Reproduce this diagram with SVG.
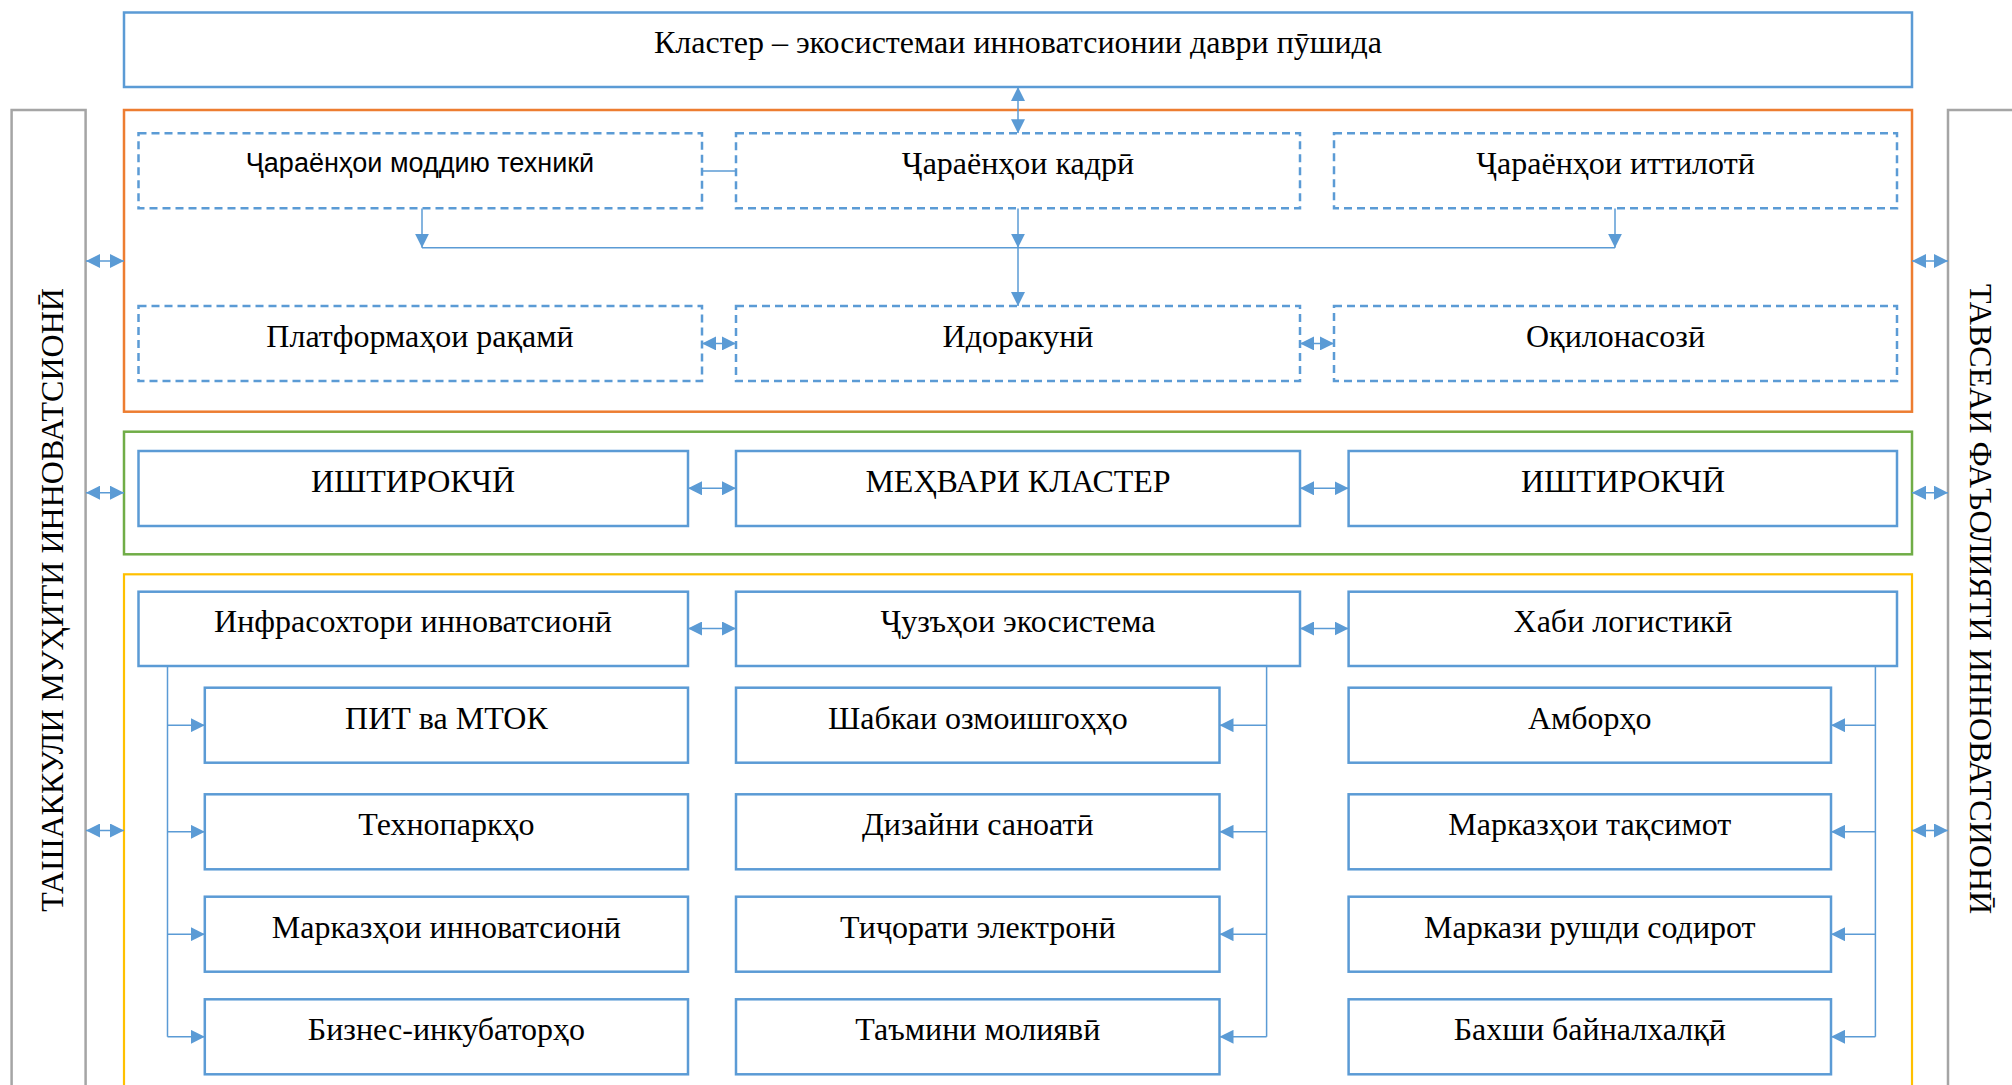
<svg xmlns="http://www.w3.org/2000/svg" width="2012" height="1085" viewBox="0 0 2012 1085">
<defs>
<marker id="ah" viewBox="0 0 12 12" refX="12" refY="6" markerWidth="14" markerHeight="14" markerUnits="userSpaceOnUse" orient="auto-start-reverse"><path d="M0,0 L12,6 L0,12 z" fill="#5B9BD5"/></marker>
</defs>
<style>
.bx{fill:#fff;stroke:#5B9BD5;stroke-width:2.5}
.dbx{fill:#fff;stroke:#5B9BD5;stroke-width:2.5;stroke-dasharray:8 5}
.t{font-family:"Liberation Serif","Times New Roman",serif;font-size:32px;text-anchor:middle;fill:#000}
.ts{font-family:"Liberation Sans",Arial,sans-serif;font-size:27px;text-anchor:middle;fill:#000}
.vt{font-family:"Liberation Serif","Times New Roman",serif;font-size:32px;text-anchor:middle;fill:#000}
.c{fill:none;stroke:#5B9BD5;stroke-width:1.5}
.a{fill:none;stroke:#5B9BD5;stroke-width:1.5;marker-end:url(#ah)}
.aa{fill:none;stroke:#5B9BD5;stroke-width:1.5;marker-start:url(#ah);marker-end:url(#ah)}
</style>
<rect width="2012" height="1085" fill="#fff"/>

<g id="side-left">
<rect x="11.6" y="110" width="74" height="1000" fill="none" stroke="#A5A5A5" stroke-width="2.5"/>
<text class="vt" transform="translate(62.5,600) rotate(-90)">ТАШАККУЛИ МУҲИТИ ИННОВАТСИОНӢ</text>
</g>
<g id="side-right">
<rect x="1948" y="110" width="90" height="1000" fill="none" stroke="#A5A5A5" stroke-width="2.5"/>
<text class="vt" transform="translate(1970,599) rotate(90)">ТАВСЕАИ ФАЪОЛИЯТИ ИННОВАТСИОНӢ</text>
</g>

<g id="container-orange"><rect x="124" y="110" width="1788" height="301.7" fill="none" stroke="#ED7D31" stroke-width="2.5"/></g>
<g id="container-green"><rect x="124" y="431.7" width="1788" height="122.6" fill="none" stroke="#70AD47" stroke-width="2.5"/></g>
<g id="container-yellow"><rect x="124" y="574.3" width="1788" height="540" fill="none" stroke="#FFC000" stroke-width="2.2"/></g>

<g id="connectors">
<line class="aa" x1="1018" y1="87" x2="1018" y2="133.3"/>
<line class="c" x1="702" y1="171" x2="736" y2="171"/>
<line class="a" x1="422" y1="208.3" x2="422" y2="247.7"/>
<line class="a" x1="1018" y1="208.3" x2="1018" y2="247.7"/>
<line class="a" x1="1615" y1="208.3" x2="1615" y2="247.7"/>
<line class="c" x1="422" y1="247.7" x2="1615" y2="247.7"/>
<line class="a" x1="1018" y1="247.7" x2="1018" y2="306"/>
<line class="aa" x1="702" y1="343.4" x2="736" y2="343.4"/>
<line class="aa" x1="1300" y1="343.4" x2="1334" y2="343.4"/>
<line class="aa" x1="688" y1="488.3" x2="736" y2="488.3"/>
<line class="aa" x1="1300" y1="488.3" x2="1348.6" y2="488.3"/>
<line class="aa" x1="688" y1="628.5" x2="736" y2="628.5"/>
<line class="aa" x1="1300" y1="628.5" x2="1348.6" y2="628.5"/>
<line class="aa" x1="86" y1="261" x2="124" y2="261"/>
<line class="aa" x1="86" y1="492.7" x2="124" y2="492.7"/>
<line class="aa" x1="86" y1="830.5" x2="124" y2="830.5"/>
<line class="aa" x1="1912" y1="261" x2="1948" y2="261"/>
<line class="aa" x1="1912" y1="492.7" x2="1948" y2="492.7"/>
<line class="aa" x1="1912" y1="830.5" x2="1948" y2="830.5"/>
<line class="c" x1="167.5" y1="666" x2="167.5" y2="1036.8"/>
<line class="a" x1="167.5" y1="725.2" x2="204.8" y2="725.2"/>
<line class="a" x1="167.5" y1="831.8" x2="204.8" y2="831.8"/>
<line class="a" x1="167.5" y1="934.2" x2="204.8" y2="934.2"/>
<line class="a" x1="167.5" y1="1036.8" x2="204.8" y2="1036.8"/>
<line class="c" x1="1266.6" y1="666" x2="1266.6" y2="1036.8"/>
<line class="a" x1="1266.6" y1="725.2" x2="1219.5" y2="725.2"/>
<line class="a" x1="1266.6" y1="831.8" x2="1219.5" y2="831.8"/>
<line class="a" x1="1266.6" y1="934.2" x2="1219.5" y2="934.2"/>
<line class="a" x1="1266.6" y1="1036.8" x2="1219.5" y2="1036.8"/>
<line class="c" x1="1875.4" y1="666" x2="1875.4" y2="1036.8"/>
<line class="a" x1="1875.4" y1="725.2" x2="1831" y2="725.2"/>
<line class="a" x1="1875.4" y1="831.8" x2="1831" y2="831.8"/>
<line class="a" x1="1875.4" y1="934.2" x2="1831" y2="934.2"/>
<line class="a" x1="1875.4" y1="1036.8" x2="1831" y2="1036.8"/>
</g>

<g id="n-top"><rect class="bx" x="124" y="12.5" width="1788" height="74.5"/><text class="t" x="1018" y="53.3">Кластер – экосистемаи инноватсионии даври пӯшида</text></g>

<g id="n-flow1"><rect class="dbx" x="138.5" y="133.3" width="563.5" height="75"/><text class="ts" x="420" y="172.3">Ҷараёнҳои моддию техникӣ</text></g>
<g id="n-flow2"><rect class="dbx" x="736" y="133.3" width="564" height="75"/><text class="t" x="1018" y="174">Ҷараёнҳои кадрӣ</text></g>
<g id="n-flow3"><rect class="dbx" x="1334" y="133.3" width="563" height="75"/><text class="t" x="1615.5" y="174">Ҷараёнҳои иттилотӣ</text></g>

<g id="n-platform"><rect class="dbx" x="138.5" y="306" width="563.5" height="75"/><text class="t" x="420" y="346.7">Платформаҳои рақамӣ</text></g>
<g id="n-gov"><rect class="dbx" x="736" y="306" width="564" height="75"/><text class="t" x="1018" y="346.7">Идоракунӣ</text></g>
<g id="n-opt"><rect class="dbx" x="1334" y="306" width="563" height="75"/><text class="t" x="1615.5" y="346.7">Оқилонасозӣ</text></g>

<g id="n-part1"><rect class="bx" x="138.5" y="451" width="549.5" height="75"/><text class="t" x="413" y="492.3">ИШТИРОКЧӢ</text></g>
<g id="n-core"><rect class="bx" x="736" y="451" width="564" height="75"/><text class="t" x="1018" y="492.3">МЕҲВАРИ КЛАСТЕР</text></g>
<g id="n-part2"><rect class="bx" x="1348.6" y="451" width="548.4" height="75"/><text class="t" x="1623" y="492.3">ИШТИРОКЧӢ</text></g>

<g id="n-infra"><rect class="bx" x="138.5" y="591.7" width="549.5" height="74.3"/><text class="t" x="413" y="632.3">Инфрасохтори инноватсионӣ</text></g>
<g id="n-eco"><rect class="bx" x="736" y="591.7" width="564" height="74.3"/><text class="t" x="1018" y="632.3">Ҷузъҳои экосистема</text></g>
<g id="n-hub"><rect class="bx" x="1348.6" y="591.7" width="548.4" height="74.3"/><text class="t" x="1623" y="632.3">Хаби логистикӣ</text></g>

<g id="n-l1"><rect class="bx" x="204.8" y="687.7" width="483.2" height="75"/><text class="t" x="446.4" y="728.5">ПИТ ва МТОК</text></g>
<g id="n-l2"><rect class="bx" x="204.8" y="794.3" width="483.2" height="75"/><text class="t" x="446.4" y="835.2">Технопаркҳо</text></g>
<g id="n-l3"><rect class="bx" x="204.8" y="896.7" width="483.2" height="75"/><text class="t" x="446.4" y="937.6">Марказҳои инноватсионӣ</text></g>
<g id="n-l4"><rect class="bx" x="204.8" y="999.3" width="483.2" height="75"/><text class="t" x="446.4" y="1040.2">Бизнес-инкубаторҳо</text></g>

<g id="n-m1"><rect class="bx" x="736" y="687.7" width="483.5" height="75"/><text class="t" x="977.8" y="728.5">Шабкаи озмоишгоҳҳо</text></g>
<g id="n-m2"><rect class="bx" x="736" y="794.3" width="483.5" height="75"/><text class="t" x="977.8" y="835.2">Дизайни саноатӣ</text></g>
<g id="n-m3"><rect class="bx" x="736" y="896.7" width="483.5" height="75"/><text class="t" x="977.8" y="937.6">Тиҷорати электронӣ</text></g>
<g id="n-m4"><rect class="bx" x="736" y="999.3" width="483.5" height="75"/><text class="t" x="977.8" y="1040.2">Таъмини молиявӣ</text></g>

<g id="n-r1"><rect class="bx" x="1348.6" y="687.7" width="482.4" height="75"/><text class="t" x="1589.8" y="728.5">Амборҳо</text></g>
<g id="n-r2"><rect class="bx" x="1348.6" y="794.3" width="482.4" height="75"/><text class="t" x="1589.8" y="835.2">Марказҳои тақсимот</text></g>
<g id="n-r3"><rect class="bx" x="1348.6" y="896.7" width="482.4" height="75"/><text class="t" x="1589.8" y="937.6">Маркази рушди содирот</text></g>
<g id="n-r4"><rect class="bx" x="1348.6" y="999.3" width="482.4" height="75"/><text class="t" x="1589.8" y="1040.2">Бахши байналхалқӣ</text></g>
</svg>
